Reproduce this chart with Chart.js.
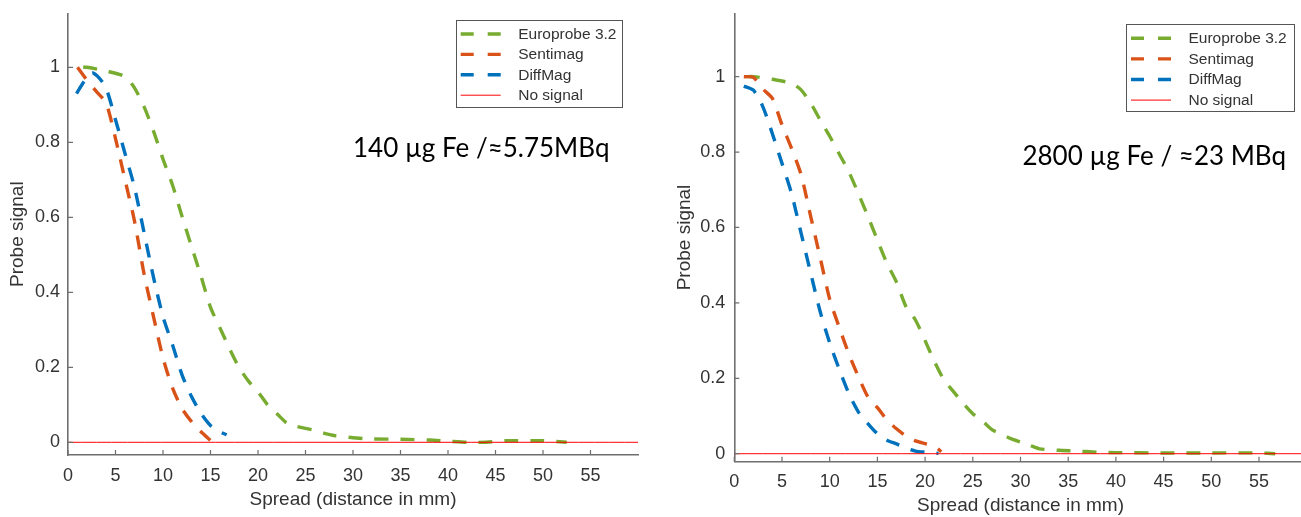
<!DOCTYPE html>
<html><head><meta charset="utf-8">
<script src="https://cdn.jsdelivr.net/npm/chart.js@4"></script>
<style>
html,body{margin:0;padding:0;background:#fff;overflow:hidden;width:1301px;height:517px;}
#cl{position:absolute;left:0;top:0;}
#cr{position:absolute;left:650px;top:0;}
</style></head><body>
<canvas id="cl" width="650" height="517"></canvas>
<canvas id="cr" width="660" height="517"></canvas>
<script>
// ---------- data ----------
const seriesNames = ['Europrobe 3.2', 'Sentimag', 'DiffMag', 'No signal'];
const xTicks = [0, 5, 10, 15, 20, 25, 30, 35, 40, 45, 50, 55];
const yTicks = [0, 0.2, 0.4, 0.6, 0.8, 1];
const yTickLabels = ['0', '0.2', '0.4', '0.6', '0.8', '1'];
const xTitle = 'Spread (distance in mm)';
const yTitle = 'Probe signal';
const annotations = ['140 µg Fe /≈5.75MBq', '2800 µg Fe / ≈23 MBq'];

// left panel (140 µg Fe)
const euroL_x = [1.6, 2, 4, 6, 7, 8, 9, 10, 11, 12, 13, 14, 15, 16, 17, 18, 19, 20, 21, 22, 23, 24, 25, 26, 27, 28, 29, 30, 32, 35, 38, 40, 42, 44, 46, 50, 52.5];
const euroL_y = [1.0, 1.0, 0.99, 0.975, 0.945, 0.895, 0.83, 0.755, 0.686, 0.603, 0.522, 0.443, 0.36, 0.305, 0.25, 0.2, 0.163, 0.135, 0.1, 0.076, 0.052, 0.043, 0.037, 0.032, 0.024, 0.018, 0.015, 0.012, 0.009, 0.008, 0.006, 0.003, 0.0, 0.0, 0.004, 0.004, 0.0];
const sentiL_x = [1, 2, 3, 4, 5, 6, 7, 8, 9, 10, 11, 12, 13, 14, 15];
const sentiL_y = [1.0, 0.966, 0.935, 0.905, 0.81, 0.70, 0.59, 0.45, 0.335, 0.225, 0.145, 0.09, 0.055, 0.028, 0.005];
const diffL_x = [0.9, 1.8, 2.6, 3.9, 5, 6, 7, 8, 9, 10, 11, 12, 13, 14, 15, 16, 16.7];
const diffL_y = [0.93, 0.966, 0.985, 0.95, 0.86, 0.77, 0.68, 0.56, 0.44, 0.335, 0.26, 0.18, 0.122, 0.077, 0.045, 0.028, 0.02];

// right panel (2800 µg Fe)
const euroR_x = [1.2, 2, 4, 6, 7, 8, 9, 10, 11, 12, 13, 14, 15, 16, 17, 18, 19, 20, 21, 22, 23, 24, 25, 26, 27, 28, 29, 30, 31, 32, 34, 36, 38, 40, 45, 50, 55, 56.7];
const euroR_y = [1.0, 1.0, 0.993, 0.982, 0.965, 0.93, 0.885, 0.842, 0.795, 0.748, 0.69, 0.63, 0.567, 0.505, 0.455, 0.39, 0.354, 0.3, 0.243, 0.195, 0.164, 0.133, 0.106, 0.087, 0.064, 0.052, 0.04, 0.031, 0.022, 0.013, 0.009, 0.007, 0.004, 0.003, 0.002, 0.002, 0.002, 0.0];
const sentiR_x = [1, 2, 3, 4, 5, 6, 7, 8, 9, 10, 11, 12, 13, 14, 15, 16, 17, 18, 19, 20, 21, 21.7];
const sentiR_y = [1.0, 0.998, 0.967, 0.942, 0.872, 0.81, 0.74, 0.63, 0.52, 0.41, 0.335, 0.265, 0.205, 0.151, 0.122, 0.09, 0.066, 0.047, 0.034, 0.027, 0.02, 0.005];
const diffR_x = [1, 2, 3, 4, 5, 6, 7, 8, 9, 10, 11, 12, 13, 14, 15, 16, 17, 18, 19, 20, 21.4];
const diffR_y = [0.975, 0.964, 0.92, 0.848, 0.77, 0.69, 0.585, 0.48, 0.377, 0.294, 0.224, 0.16, 0.111, 0.08, 0.053, 0.036, 0.026, 0.015, 0.007, 0.004, 0.001];

const noSignal_x = [0, 60];
const noSignal_y = [0, 0];

// ---------- rendering ----------
const FONT = "'Liberation Sans', Arial, sans-serif";
const colors = ['#77AC30', '#D95319', '#0072BD', '#FF0000'];
const AXIS = '#6f6f6f';
const TXT = '#333333';

function pts(xs, ys) { return xs.map((x, i) => ({ x: x, y: ys[i] })); }

const innerTicks = {
  id: 'innerTicks',
  afterDraw(chart) {
    const { ctx, chartArea, scales } = chart;
    ctx.save();
    ctx.strokeStyle = AXIS; ctx.lineWidth = 1.2;
    ctx.beginPath();
    xTicks.forEach(v => { const p = scales.x.getPixelForValue(v); ctx.moveTo(p, chartArea.bottom); ctx.lineTo(p, chartArea.bottom - 5); });
    yTicks.forEach(v => { const p = scales.y.getPixelForValue(v); ctx.moveTo(chartArea.left, p); ctx.lineTo(chartArea.left + 5, p); });
    ctx.stroke();
    ctx.restore();
  }
};

const boxLegend = {
  id: 'boxLegend',
  afterDraw(chart, args, o) {
    const ctx = chart.ctx;
    ctx.save();
    ctx.fillStyle = '#fff';
    ctx.fillRect(o.left, o.top, o.width, o.height);
    ctx.strokeStyle = '#555'; ctx.lineWidth = 1;
    ctx.strokeRect(Math.round(o.left) + 0.5, Math.round(o.top) + 0.5, Math.round(o.width), Math.round(o.height));
    chart.data.datasets.forEach((ds, i) => {
      const y = o.top + o.first + i * o.gap;
      ctx.beginPath();
      ctx.strokeStyle = ds.borderColor;
      ctx.lineWidth = ds.borderWidth;
      ctx.lineCap = 'butt';
      ctx.setLineDash(ds.borderDash ? [13, 14] : []);
      ctx.moveTo(o.left + 5, y); ctx.lineTo(o.left + 45, y);
      ctx.stroke();
      ctx.setLineDash([]);
      ctx.fillStyle = TXT;
      ctx.font = '15.5px ' + FONT;
      ctx.textBaseline = 'middle';
      ctx.textAlign = 'left';
      ctx.fillText(ds.label, o.left + 62.5, y + 0.5);
    });
    ctx.restore();
  }
};

const annot = {
  id: 'annot',
  afterDraw(chart, args, o) {
    const ctx = chart.ctx;
    ctx.save();
    ctx.fillStyle = '#000';
    ctx.font = '26px Lato, sans-serif';
    ctx.textBaseline = 'alphabetic';
    ctx.textAlign = 'left';
    ctx.fillText(o.text, chart.scales.x.getPixelForValue(o.x), chart.scales.y.getPixelForValue(o.y));
    ctx.restore();
  }
};

function makeChart(id, c) {
  const datasets = [
    { label: seriesNames[0], data: pts(c.euro[0], c.euro[1]), borderColor: colors[0], borderWidth: 3.4, borderDash: [14, 12], order: 3 },
    { label: seriesNames[1], data: pts(c.senti[0], c.senti[1]), borderColor: colors[1], borderWidth: 3.4, borderDash: [14, 12], order: 2 },
    { label: seriesNames[2], data: pts(c.diff[0], c.diff[1]), borderColor: colors[2], borderWidth: 3.4, borderDash: [14, 12], order: 1 },
    { label: seriesNames[3], data: pts(noSignal_x, noSignal_y), borderColor: colors[3], borderWidth: 1, order: 0 }
  ];
  return new Chart(document.getElementById(id), {
    type: 'line',
    data: { datasets: datasets },
    options: {
      responsive: false, animation: false, devicePixelRatio: 1,
      layout: { padding: { top: 13.3, right: c.padRight, left: 0, bottom: 0 } },
      elements: { point: { radius: 0 }, line: { tension: 0.25, borderCapStyle: 'butt' } },
      plugins: {
        legend: { display: false }, tooltip: { enabled: false },
        boxLegend: c.legend,
        annot: c.annot
      },
      scales: {
        x: {
          type: 'linear', min: 0, max: 60,
          afterBuildTicks: s => { s.ticks = xTicks.map(v => ({ value: v })); },
          afterFit: s => { s.height = c.xH; s.paddingLeft = 0; s.paddingRight = 0; },
          grid: { display: false, drawTicks: false },
          border: { display: true, color: AXIS, width: 1.6 },
          ticks: { padding: 10, color: TXT, font: { family: FONT, size: 18 }, maxRotation: 0, autoSkip: false, callback: v => String(v) },
          title: { display: true, text: xTitle, color: TXT, font: { family: FONT, size: 19 }, padding: { top: 0, bottom: c.xTitlePad } }
        },
        y: {
          type: 'linear', min: c.ymin, max: c.ymax,
          afterBuildTicks: s => { s.ticks = yTicks.map(v => ({ value: v })); },
          afterFit: s => { s.width = c.yW; s.paddingTop = 0; s.paddingBottom = 0; },
          grid: { display: false, drawTicks: false },
          border: { display: true, color: AXIS, width: 1.6 },
          ticks: { padding: c.yTickPad, color: TXT, font: { family: FONT, size: 18 }, autoSkip: false, callback: v => yTickLabels[yTicks.indexOf(v)] },
          title: { display: true, text: yTitle, color: TXT, font: { family: FONT, size: 19 }, padding: { top: c.yTitlePad, bottom: 0 } }
        }
      }
    },
    plugins: [innerTicks, boxLegend, annot]
  });
}

makeChart('cl', {
  euro: [euroL_x, euroL_y], senti: [sentiL_x, sentiL_y], diff: [diffL_x, diffL_y],
  ymin: -0.0339, ymax: 1.144, yW: 68, xH: 62, padRight: 12,
  yTickPad: 8, yTitlePad: 6.6, xTitlePad: 5.6,
  legend: { left: 455.7, top: 20, width: 166, height: 86.7, first: 14, gap: 20.4 },
  annot: { text: annotations[0], x: 30, y: 0.762 }
});
makeChart('cr', {
  euro: [euroR_x, euroR_y], senti: [sentiR_x, sentiR_y], diff: [diffR_x, diffR_y],
  ymin: -0.0212, ymax: 1.168, yW: 84.3, xH: 55.3, padRight: 3.3,
  yTickPad: 9, yTitlePad: 23.6, xTitlePad: 0,
  legend: { left: 476, top: 24.3, width: 167.7, height: 86.7, first: 14, gap: 20.6 },
  annot: { text: annotations[1], x: 30.2, y: 0.766 }
});
</script>
</body></html>
